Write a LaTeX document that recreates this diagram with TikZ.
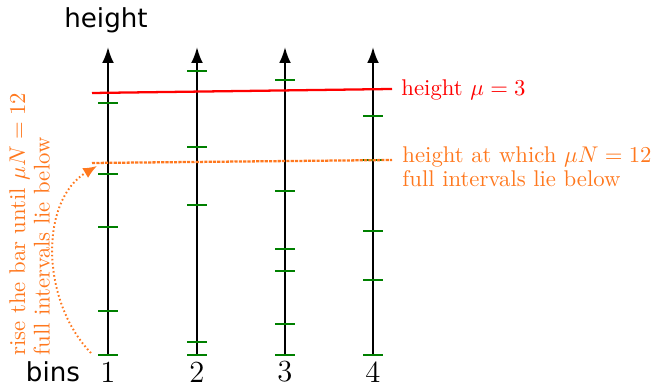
\documentclass[tikz,border=0pt]{standalone}
\usepackage{fontspec}
\newfontfamily\labelsans{DejaVu Sans}
\usetikzlibrary{arrows.meta}
\definecolor{myorange}{RGB}{255,120,30}
\definecolor{mygreen}{RGB}{0,128,0}
\begin{document}
\begin{tikzpicture}[x=0.44pt,y=-0.44pt,
  axis/.style={line width=1pt,-{Latex[length=7pt,width=5.2pt]}},
  tickmark/.style={mygreen,line width=1.2pt},
  redline/.style={red,line width=1pt},
  orline/.style={myorange,line width=1pt,dash pattern=on 1.4pt off 0.5pt},
  orarrow/.style={myorange,line width=0.85pt,dash pattern=on 0.7pt off 1.1pt,-{Latex[length=6pt,width=5pt]}},
  sanslabel/.style={font=\labelsans\fontsize{11.5}{13}\selectfont,inner sep=0pt},
  binnum/.style={font=\fontsize{13.5}{16}\selectfont,inner sep=0pt},
  ortext/.style={myorange,font=\fontsize{10}{10.7}\selectfont,align=left,inner sep=0pt}]
\useasboundingbox (0,0) rectangle (651,387);
% axes
\foreach \i/\x in {1/108,2/197,3/285,4/373}{
  \coordinate (bot\i) at (\x,355);
  \coordinate (top\i) at (\x,47);
  \draw[axis] (bot\i) -- (top\i);
  \node[binnum] (b\i) at (\x,372) {\i};
}
% ticks
\foreach \y in {103,174,227,311,355}{\draw[tickmark] (98,\y) -- (118,\y);}
\foreach \y in {71,147,205,342,355}{\draw[tickmark] (187,\y) -- (207,\y);}
\foreach \y in {80,191,249,271,324,355}{\draw[tickmark] (275,\y) -- (295,\y);}
\foreach \y in {116,160,231,280,355}{\draw[tickmark] (363,\y) -- (383,\y);}
% labels
\node[sanslabel] (hlbl) at (106,20) {height};
\node[sanslabel] (binslbl) at (53,372) {bins};
% red line
\coordinate (rl) at (92,93);
\coordinate (rr) at (392,89);
\draw[redline] (rl) -- (rr);
\node[red,anchor=west,inner sep=0pt,font=\fontsize{10}{12}\selectfont] (redlbl) at (401,90) {height $\mu=3$};
% orange line
\coordinate (ol) at (92,163);
\coordinate (or) at (392,160);
\draw[orline] (ol) -- (or);
\node[ortext,anchor=north west] (orlbl) at (402,146) {height at which $\mu N=12$\\full intervals lie below};
% rotated text
\node[ortext,rotate=90,anchor=north west] (rotlbl) at (9,356) {rise the bar until $\mu N=12$\\full intervals lie below};
% curved arrow
\coordinate (cs) at (91,353);
\coordinate (ce) at (97,166);
\draw[orarrow] (cs) .. controls (40,300) and (40,200) .. (ce);
\end{tikzpicture}
\end{document}
